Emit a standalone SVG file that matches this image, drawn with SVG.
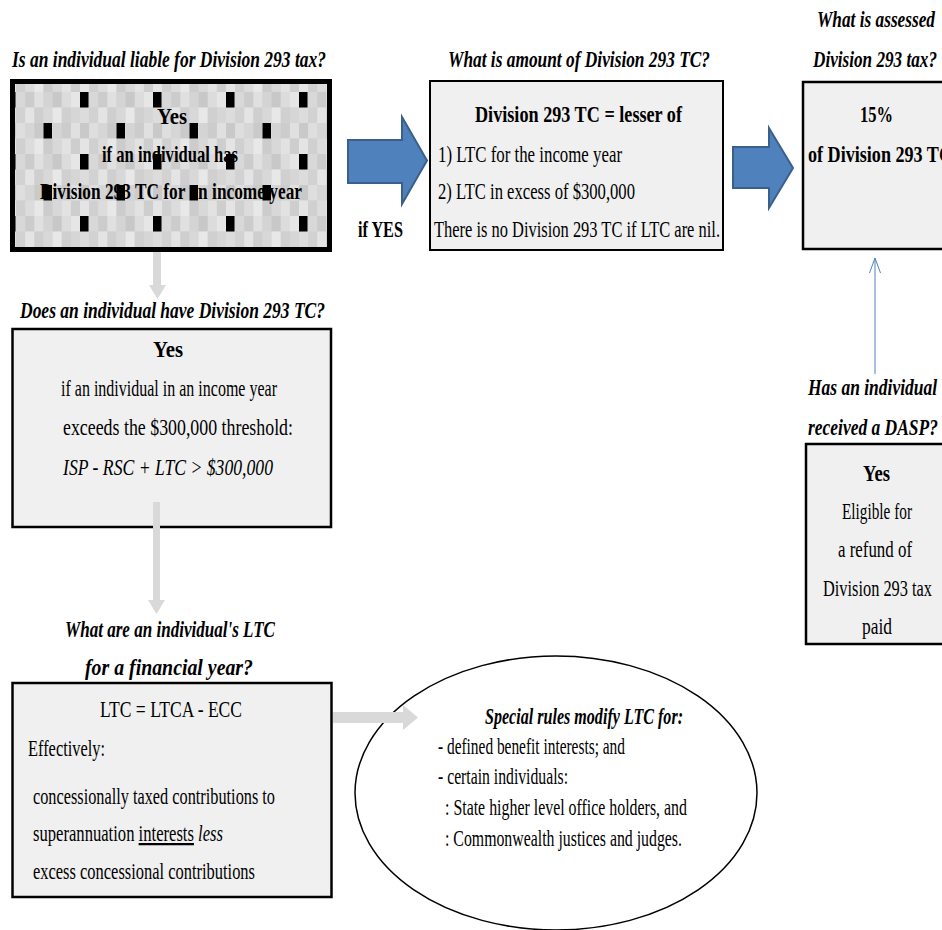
<svg xmlns="http://www.w3.org/2000/svg" width="942" height="930" viewBox="0 0 942 930">
<style>
text{font-family:"Liberation Serif","Times New Roman",serif;font-size:22.5px;fill:#000}
.t{font-weight:bold;font-style:italic}
.b{font-weight:bold}
.i{font-style:italic}
.box{fill:#f0f0f0;stroke:#000;stroke-width:2.5}
.blue{fill:#4f81bd;stroke:#3a5f8b;stroke-width:2}
.gray{fill:#d9d9d9;stroke:none}
</style>
<defs>
<pattern id="mosaic" patternUnits="userSpaceOnUse" x="80" y="92" width="73" height="62">
<rect width="73" height="62" fill="#d6d6d6"/>
<rect x="0" y="0" width="9.2" height="15.6" fill="#d0d0d0"/><rect x="9.125" y="0" width="9.2" height="15.6" fill="#d8d8d8"/><rect x="18.25" y="0" width="9.2" height="15.6" fill="#cccccc"/><rect x="27.375" y="0" width="9.2" height="15.6" fill="#e0e0e0"/><rect x="36.5" y="0" width="9.2" height="15.6" fill="#d4d4d4"/><rect x="45.625" y="0" width="9.2" height="15.6" fill="#c8c8c8"/><rect x="54.75" y="0" width="9.2" height="15.6" fill="#dcdcdc"/><rect x="63.875" y="0" width="9.2" height="15.6" fill="#e6e6e6"/>
<rect x="0" y="15.5" width="9.2" height="15.6" fill="#dcdcdc"/><rect x="9.125" y="15.5" width="9.2" height="15.6" fill="#d2d2d2"/><rect x="18.25" y="15.5" width="9.2" height="15.6" fill="#e4e4e4"/><rect x="27.375" y="15.5" width="9.2" height="15.6" fill="#cfcfcf"/><rect x="36.5" y="15.5" width="9.2" height="15.6" fill="#d8d8d8"/><rect x="45.625" y="15.5" width="9.2" height="15.6" fill="#e8e8e8"/><rect x="54.75" y="15.5" width="9.2" height="15.6" fill="#d0d0d0"/><rect x="63.875" y="15.5" width="9.2" height="15.6" fill="#d6d6d6"/>
<rect x="0" y="31" width="9.2" height="15.6" fill="#c9c9c9"/><rect x="9.125" y="31" width="9.2" height="15.6" fill="#dedede"/><rect x="18.25" y="31" width="9.2" height="15.6" fill="#d6d6d6"/><rect x="27.375" y="31" width="9.2" height="15.6" fill="#cacaca"/><rect x="36.5" y="31" width="9.2" height="15.6" fill="#e2e2e2"/><rect x="45.625" y="31" width="9.2" height="15.6" fill="#d4d4d4"/><rect x="54.75" y="31" width="9.2" height="15.6" fill="#cccccc"/><rect x="63.875" y="31" width="9.2" height="15.6" fill="#e0e0e0"/>
<rect x="0" y="46.5" width="9.2" height="15.6" fill="#e4e4e4"/><rect x="9.125" y="46.5" width="9.2" height="15.6" fill="#d0d0d0"/><rect x="18.25" y="46.5" width="9.2" height="15.6" fill="#dcdcdc"/><rect x="27.375" y="46.5" width="9.2" height="15.6" fill="#e8e8e8"/><rect x="36.5" y="46.5" width="9.2" height="15.6" fill="#cccccc"/><rect x="45.625" y="46.5" width="9.2" height="15.6" fill="#d8d8d8"/><rect x="54.75" y="46.5" width="9.2" height="15.6" fill="#e2e2e2"/><rect x="63.875" y="46.5" width="9.2" height="15.6" fill="#cecece"/>
</pattern>
<pattern id="dots" patternUnits="userSpaceOnUse" x="80" y="92" width="73" height="62">
<rect x="0" y="0" width="8.5" height="15.5" fill="#000"/>
<rect x="36.5" y="31" width="8.5" height="15.5" fill="#000"/>
</pattern>
<marker id="open" viewBox="0 0 16 12" refX="15" refY="6" markerWidth="16" markerHeight="12" markerUnits="userSpaceOnUse" orient="auto">
<path d="M0,0.5 L15,6 L0,11.5" fill="none" stroke="#4f81bd" stroke-width="1"/>
</marker>
</defs>
<rect width="942" height="930" fill="#fff"/>

<g id="connectors">
<polygon class="blue" points="348,140 402,140 402,117 427,160.5 402,204 402,183 348,183"/>
<polygon class="blue" points="733,147 769,147 769,128 793,168 769,208 769,188 733,188"/>
<line x1="875" y1="374" x2="875" y2="258" stroke="#4f81bd" stroke-width="1" marker-end="url(#open)"/>
<polygon class="gray" points="153,252 161,252 161,285 166,285 157.5,299 149,285 153,285"/>
<text class="b" x="358" y="237" textLength="45" lengthAdjust="spacingAndGlyphs">if YES</text>
</g>

<g id="node-liable">
<text class="t" x="12" y="67" textLength="314" lengthAdjust="spacingAndGlyphs">Is an individual liable for Division 293 tax?</text>
<rect x="12.5" y="81.5" width="317" height="168" fill="url(#mosaic)"/>
<text class="b" x="157" y="124" textLength="30" lengthAdjust="spacingAndGlyphs">Yes</text>
<text class="b" x="102" y="162" textLength="136" lengthAdjust="spacingAndGlyphs">if an individual has</text>
<text class="b" x="40" y="199" textLength="262" lengthAdjust="spacingAndGlyphs">Division 293 TC for an income year</text>
<rect x="12.5" y="81.5" width="317" height="168" fill="url(#dots)"/>
<rect x="12.5" y="81.5" width="317" height="168" fill="none" stroke="#000" stroke-width="5"/>
</g>

<g id="node-amount">
<text class="t" x="448" y="67" textLength="262" lengthAdjust="spacingAndGlyphs">What is amount of Division 293 TC?</text>
<rect class="box" x="430" y="81" width="293" height="169" style="stroke-width:2"/>
<text class="b" x="475" y="122" textLength="207" lengthAdjust="spacingAndGlyphs">Division 293 TC = lesser of</text>
<text x="438" y="162" textLength="184" lengthAdjust="spacingAndGlyphs">1) LTC for the income year</text>
<text x="438" y="199" textLength="197" lengthAdjust="spacingAndGlyphs">2) LTC in excess of $300,000</text>
<text x="434" y="237" textLength="286" lengthAdjust="spacingAndGlyphs">There is no Division 293 TC if LTC are nil.</text>
</g>

<g id="node-assessed">
<text class="t" x="817" y="27" textLength="118" lengthAdjust="spacingAndGlyphs">What is assessed</text>
<text class="t" x="813" y="67" textLength="124" lengthAdjust="spacingAndGlyphs">Division 293 tax?</text>
<rect class="box" x="803" y="82" width="160" height="167"/>
<text class="b" x="860" y="122" textLength="33" lengthAdjust="spacingAndGlyphs">15%</text>
<text class="b" x="808" y="162" textLength="144" lengthAdjust="spacingAndGlyphs">of Division 293 TC</text>
</g>

<g id="node-have">
<text class="t" x="20" y="318" textLength="305" lengthAdjust="spacingAndGlyphs">Does an individual have Division 293 TC?</text>
<rect class="box" x="12.5" y="329" width="318.5" height="198"/>
<text class="b" x="153" y="357" textLength="30" lengthAdjust="spacingAndGlyphs">Yes</text>
<text x="61" y="396" textLength="216" lengthAdjust="spacingAndGlyphs">if an individual in an income year</text>
<text x="63" y="435" textLength="230" lengthAdjust="spacingAndGlyphs">exceeds the $300,000 threshold:</text>
<text class="i" x="63" y="475" textLength="210" lengthAdjust="spacingAndGlyphs">ISP - RSC + LTC &gt; $300,000</text>
</g>

<g id="node-dasp">
<text class="t" x="808" y="395" textLength="129" lengthAdjust="spacingAndGlyphs">Has an individual</text>
<text class="t" x="808" y="435" textLength="130" lengthAdjust="spacingAndGlyphs">received a DASP?</text>
<rect class="box" x="806" y="444" width="160" height="200"/>
<text class="b" x="863" y="481" textLength="27" lengthAdjust="spacingAndGlyphs">Yes</text>
<text x="842" y="519" textLength="70" lengthAdjust="spacingAndGlyphs">Eligible for</text>
<text x="838" y="557" textLength="74" lengthAdjust="spacingAndGlyphs">a refund of</text>
<text x="823" y="596" textLength="109" lengthAdjust="spacingAndGlyphs">Division 293 tax</text>
<text x="862" y="634" textLength="30" lengthAdjust="spacingAndGlyphs">paid</text>
</g>

<g id="node-ltc">
<text class="t" x="65" y="637" textLength="210" lengthAdjust="spacingAndGlyphs">What are an individual's LTC</text>
<text class="t" x="85" y="675" textLength="168" lengthAdjust="spacingAndGlyphs">for a financial year?</text>
<rect class="box" x="12.5" y="683" width="319" height="214"/>
<text x="100" y="717" textLength="142" lengthAdjust="spacingAndGlyphs">LTC = LTCA - ECC</text>
<text x="28" y="756" textLength="77" lengthAdjust="spacingAndGlyphs">Effectively:</text>
<text x="33" y="804" textLength="242" lengthAdjust="spacingAndGlyphs">concessionally taxed contributions to</text>
<text x="33" y="841" textLength="190" lengthAdjust="spacingAndGlyphs">superannuation <tspan text-decoration="underline">interests</tspan> <tspan class="i">less</tspan></text>
<text x="33" y="879" textLength="222" lengthAdjust="spacingAndGlyphs">excess concessional contributions</text>
</g>

<g id="node-special">
<ellipse cx="556" cy="793" rx="201" ry="137" fill="#fff" stroke="#000" stroke-width="1.5"/>
<text class="t" x="485" y="724" textLength="198" lengthAdjust="spacingAndGlyphs">Special rules modify LTC for:</text>
<text x="438" y="754" textLength="187" lengthAdjust="spacingAndGlyphs">- defined benefit interests; and</text>
<text x="438" y="784" textLength="130" lengthAdjust="spacingAndGlyphs">- certain individuals:</text>
<text x="445" y="815" textLength="242" lengthAdjust="spacingAndGlyphs">: State higher level office holders, and</text>
<text x="445" y="846" textLength="237" lengthAdjust="spacingAndGlyphs">: Commonwealth justices and judges.</text>
</g>

<g id="connectors-over">
<polygon class="gray" points="153,502 160,502 160,600 165,600 156.5,614 148,600 153,600"/>
<polygon class="gray" points="333,712 403,712 403,705 418,717.5 403,730 403,723 333,723"/>
</g>
</svg>
